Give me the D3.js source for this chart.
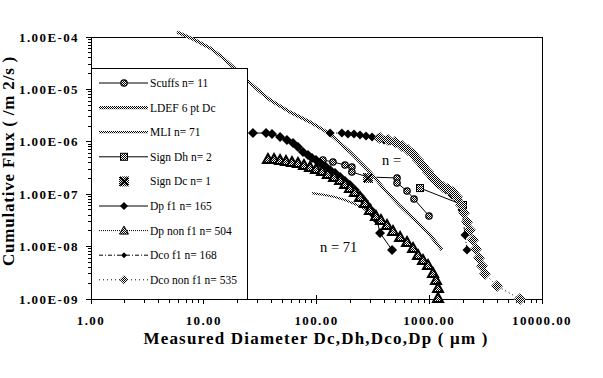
<!DOCTYPE html>
<html>
<head>
<meta charset="utf-8">
<script src="https://cdn.jsdelivr.net/npm/d3@7"></script>
<style>
body { margin: 0; background: #fff; }
svg { display: block; }
</style>
</head>
<body>
<svg width="603" height="378"></svg>
<script>
// values (diameter in um, cumulative flux per m2 per s)
var scuffsD = [114, 140, 179, 206, 206, 286, 518, 518, 635, 733, 995];
var scuffsFlux = [4.5e-7, 4.12e-7, 3.61e-7, 3.3e-7, 2.65e-7, 2.13e-7, 2.04e-7, 1.64e-7, 1.15e-7, 8.1e-8, 3.84e-8];

var ldefD = [5.79, 8.36, 11.4, 14.5, 18.2, 24.7, 30.3, 38.7, 58.2, 87.5, 132, 198, 298, 405, 551, 748, 1015, 1298];
var ldefFlux = [1.25e-4, 8.77e-5, 6.17e-5, 4.15e-5, 2.67e-5, 1.44e-5, 9.75e-6, 6.28e-6, 3.7e-6, 2.39e-6, 1.41e-6, 6.39e-7, 2.65e-7, 1.2e-7, 5.96e-8, 3.22e-8, 1.67e-8, 8.6e-9];

var mliD = [91.2, 119, 146, 179, 219, 258, 298];
var mliFlux = [1.05e-7, 9.66e-8, 8.85e-8, 7.75e-8, 6.5e-8, 5.45e-8, 4.38e-8];

var signDhD = [828, 1992];
var signDhFlux = [1.31e-7, 6.22e-8];

var signDcD = [286];
var signDcFlux = [2.04e-7];

var dpF1D = [27.3, 35.7, 40.3, 47.5, 54.7, 61.9, 68.5, 75.9, 84.1, 91.2, 99.0, 107, 119, 132, 146, 162, 179, 198, 219, 243, 264, 281, 304, 324, 344, 366, 468];
var dpF1Flux = [1.47e-6, 1.47e-6, 1.41e-6, 1.24e-6, 1.08e-6, 9.5e-7, 7.96e-7, 6.39e-7, 5.6e-7, 4.91e-7, 4.5e-7, 3.94e-7, 3.45e-7, 2.9e-7, 2.54e-7, 2.13e-7, 1.79e-7, 1.5e-7, 1.2e-7, 9.25e-8, 7.42e-8, 6.22e-8, 4.99e-8, 4.01e-8, 3.22e-8, 1.82e-8, 8.6e-9];

var dpNonD = [37.1, 42.0, 47.5, 53.6, 60.6, 68.5, 77.4, 87.5, 99.0, 112, 126, 143, 162, 179, 198, 219, 243, 269, 298, 337, 373, 422, 477, 551, 635, 718, 795, 880, 975, 1080, 1148, 1196, 1196];
var dpNonFlux = [4.7e-7, 4.7e-7, 4.5e-7, 4.3e-7, 4.12e-7, 3.94e-7, 3.61e-7, 3.3e-7, 3.03e-7, 2.77e-7, 2.43e-7, 2.13e-7, 1.87e-7, 1.57e-7, 1.31e-7, 1.1e-7, 8.85e-8, 6.79e-8, 4.99e-8, 3.84e-8, 3.22e-8, 2.58e-8, 1.99e-8, 1.52e-8, 1.22e-8, 9.4e-9, 6.9e-9, 5.55e-9, 4.45e-9, 3.13e-9, 2.31e-9, 1.62e-9, 1.04e-9];

var dcoF1D = [132, 168, 190, 215, 243, 275, 311, 351, 397, 449, 507, 573, 648, 733, 828, 936, 1057, 1196, 1408, 1592, 1799, 1951, 2076, 2163];
var dcoF1Flux = [1.47e-6, 1.47e-6, 1.41e-6, 1.41e-6, 1.35e-6, 1.29e-6, 1.24e-6, 1.18e-6, 1.08e-6, 1.04e-6, 9.5e-7, 8.3e-7, 6.98e-7, 5.6e-7, 4.12e-7, 2.9e-7, 2.04e-7, 1.57e-7, 1.2e-7, 9.66e-8, 7.75e-8, 4.99e-8, 1.67e-8, 8.6e-9];

var dcoNonD = [366, 431, 497, 573, 648, 718, 795, 880, 975, 1080, 1196, 1324, 1466, 1624, 1763, 1913, 2033, 2163, 2297, 2444, 2600, 2763, 2938, 3120, 3990, 6383];
var dcoNonFlux = [1.18e-6, 1.08e-6, 9.9e-7, 8.3e-7, 6.98e-7, 5.85e-7, 4.5e-7, 3.45e-7, 2.65e-7, 2.04e-7, 1.64e-7, 1.37e-7, 1.26e-7, 1.1e-7, 8.85e-8, 6.22e-8, 4.38e-8, 2.95e-8, 2.07e-8, 1.34e-8, 9.0e-9, 6.05e-9, 4.27e-9, 3.0e-9, 1.77e-9, 1.0e-9];

var xTicks = [1, 10, 100, 1000, 10000];
var yTicks = [1e-9, 1e-8, 1e-7, 1e-6, 1e-5, 1e-4];
var legendNames = ["Scuffs n= 11", "LDEF 6 pt Dc", "MLI n= 71", "Sign Dh n= 2", "Sign Dc n= 1",
                   "Dp f1 n= 165", "Dp non f1 n= 504", "Dco f1 n= 168", "Dco non f1 n= 535"];

var svg = d3.select("svg");
var x = d3.scaleLog().domain([1, 10000]).range([91, 542]);
var y = d3.scaleLog().domain([1e-9, 1e-4]).range([299, 37]);
var x0 = x.range()[0], x1 = x.range()[1], y0 = y.range()[0], y1 = y.range()[1];

// 1px checker, the grey of the original
var defs = svg.append("defs");
var pat = defs.append("pattern").attr("id", "chk")
    .attr("patternUnits", "userSpaceOnUse").attr("width", 2).attr("height", 2);
pat.append("rect").attr("width", 2).attr("height", 2).attr("fill", "#fff");
pat.append("rect").attr("width", 1).attr("height", 1).attr("fill", "#000");
pat.append("rect").attr("x", 1).attr("y", 1).attr("width", 1).attr("height", 1).attr("fill", "#000");

var tickFont = "'Liberation Serif', 'Times New Roman', serif";

// frame + ticks
var ax = svg.append("g").attr("shape-rendering", "crispEdges").attr("stroke", "#000");
ax.append("rect").attr("x", x0).attr("y", y1).attr("width", x1 - x0).attr("height", y0 - y1)
  .attr("fill", "none");

for (var p = 0; p < 4; p++) {
  for (var k = 2; k < 10; k++) {
    var xv = k * Math.pow(10, p);
    ax.append("line").attr("x1", x(xv)).attr("x2", x(xv)).attr("y1", y0).attr("y2", y0 + 4);
  }
}
for (var p = -9; p < -4; p++) {
  for (var k = 2; k < 10; k++) {
    var yv = k * Math.pow(10, p);
    ax.append("line").attr("x1", x0 - 3).attr("x2", x0).attr("y1", y(yv)).attr("y2", y(yv));
  }
}
xTicks.forEach(function(d) {
  ax.append("line").attr("x1", x(d)).attr("x2", x(d)).attr("y1", y0 - 4).attr("y2", y0 + 5);
});
yTicks.forEach(function(d) {
  ax.append("line").attr("x1", x0 - 5).attr("x2", x0).attr("y1", y(d)).attr("y2", y(d));
});

svg.append("g").selectAll("text").data(xTicks).enter().append("text")
  .attr("x", function(d) { return x(d); })
  .attr("y", 325)
  .attr("text-anchor", "middle")
  .style("font", "bold 13px " + tickFont)
  .style("letter-spacing", "1.4px")
  .text(function(d) { return d3.format(".2f")(d); });

svg.append("g").selectAll("text").data(yTicks).enter().append("text")
  .attr("x", 79)
  .attr("y", function(d) { return y(d) + 4.5; })
  .attr("text-anchor", "end")
  .style("font", "bold 13px " + tickFont)
  .style("letter-spacing", "1.4px")
  .text(function(d) { return "1.00E-" + String(Math.round(-Math.log10(d))).padStart(2, "0"); });

svg.append("text")
  .attr("x", 316).attr("y", 344)
  .attr("text-anchor", "middle")
  .style("font", "bold 17px " + tickFont)
  .style("letter-spacing", "1.2px")
  .text("Measured Diameter Dc,Dh,Dco,Dp ( \u03bcm )");

svg.append("text")
  .attr("transform", "translate(14,161) rotate(-90)")
  .attr("text-anchor", "middle")
  .style("font", "bold 17px " + tickFont)
  .style("letter-spacing", "0.8px")
  .text("Cumulative Flux ( /m 2/s )");

// annotations
svg.append("text").attr("x", 320).attr("y", 252)
  .style("font", "14.5px " + tickFont).text("n = 71");
svg.append("text").attr("x", 382).attr("y", 165)
  .style("font", "14.5px " + tickFont).text("n =");

// markers, s = half size
function diamondPath(cx, cy, s) {
  return "M" + cx + "," + (cy - s) + "L" + (cx + s) + "," + cy + "L" + cx + "," + (cy + s) + "L" + (cx - s) + "," + cy + "Z";
}
function marker(g, type, cx, cy, big) {
  if (type == "circle") {
    g.append("circle").attr("cx", cx).attr("cy", cy).attr("r", 3.2)
      .attr("fill", "url(#chk)").attr("stroke", "#000").attr("stroke-width", 1.2);
  } else if (type == "square") {
    g.append("rect").attr("x", cx - 3.5).attr("y", cy - 3.5).attr("width", 7).attr("height", 7)
      .attr("fill", "url(#chk)").attr("stroke", "#000").attr("stroke-width", 1);
  } else if (type == "bigsquare") {
    g.append("rect").attr("x", cx - 5).attr("y", cy - 5).attr("width", 10).attr("height", 10)
      .attr("fill", "url(#chk)");
    g.append("path").attr("d", "M" + (cx - 4) + "," + (cy - 4) + "L" + (cx + 4) + "," + (cy + 4) +
      "M" + (cx + 4) + "," + (cy - 4) + "L" + (cx - 4) + "," + (cy + 4))
      .attr("stroke", "#000").attr("stroke-width", 1.5);
  } else if (type == "diamond") {
    g.append("path").attr("d", diamondPath(cx, cy, big ? 5 : 4)).attr("fill", "#000");
  } else if (type == "smalldiamond") {
    g.append("path").attr("d", diamondPath(cx, cy, big ? 4.5 : 3)).attr("fill", "#000");
  } else if (type == "triangle") {
    var h = big ? 5 : 4.5;
    g.append("path").attr("d", "M" + cx + "," + (cy - h) + "L" + (cx + h) + "," + (cy + h - 1) + "L" + (cx - h) + "," + (cy + h - 1) + "Z")
      .attr("fill", "url(#chk)").attr("stroke", "#000").attr("stroke-width", big ? 2 : 1);
  } else if (type == "xmark") {
    g.append("path").attr("d", diamondPath(cx, cy, big ? 6 : 4.5)).attr("fill", "url(#chk)");
  }
}

var series = [
  { xs: scuffsD, ys: scuffsFlux, stroke: "#000", width: 1, dash: null, mark: "circle" },
  { xs: ldefD, ys: ldefFlux, stroke: "url(#chk)", width: 3.2, dash: null, mark: null },
  { xs: mliD, ys: mliFlux, stroke: "url(#chk)", width: 2.2, dash: null, mark: null },
  { xs: signDhD, ys: signDhFlux, stroke: "#000", width: 1, dash: null, mark: "square" },
  { xs: signDcD, ys: signDcFlux, stroke: "none", width: 1, dash: null, mark: "bigsquare" },
  { xs: dpF1D, ys: dpF1Flux, stroke: "#000", width: 1, dash: null, mark: "diamond" },
  { xs: dpNonD, ys: dpNonFlux, stroke: "#000", width: 1, dash: "1,1", mark: "triangle" },
  { xs: dcoF1D, ys: dcoF1Flux, stroke: "#000", width: 1, dash: "4,2,1,2", mark: "smalldiamond" },
  { xs: dcoNonD, ys: dcoNonFlux, stroke: "#000", width: 1, dash: "1,3", mark: "xmark" }
];

var line = d3.line()
  .x(function(d) { return x(d[0]); })
  .y(function(d) { return y(d[1]); });

var plot = svg.append("g");
series.forEach(function(s) {
  var pts = d3.zip(s.xs, s.ys);
  var g = plot.append("g");
  if (pts.length > 1 && s.stroke != "none") {
    g.append("path").datum(pts).attr("d", line)
      .attr("fill", "none").attr("stroke", s.stroke).attr("stroke-width", s.width)
      .attr("stroke-dasharray", s.dash);
  }
  if (s.mark) {
    pts.forEach(function(d) { marker(g, s.mark, x(d[0]), y(d[1]), true); });
  }
});

// legend
var lg = svg.append("g");
lg.append("rect").attr("x", x0).attr("y", 68).attr("width", 156).attr("height", y0 - 68)
  .attr("fill", "#fff").attr("stroke", "#000").attr("shape-rendering", "crispEdges");
series.forEach(function(s, i) {
  var ly = 83 + i * 24.6;
  if (s.stroke != "none") {
    lg.append("line").attr("x1", 99).attr("x2", 148).attr("y1", ly).attr("y2", ly)
      .attr("stroke", s.stroke).attr("stroke-width", s.width).attr("stroke-dasharray", s.dash);
  }
  if (s.mark) marker(lg, s.mark, 124, ly, false);
  lg.append("text").attr("x", 150).attr("y", ly + 4)
    .style("font", "11.5px " + tickFont)
    .text(legendNames[i]);
});
</script>
</body>
</html>
